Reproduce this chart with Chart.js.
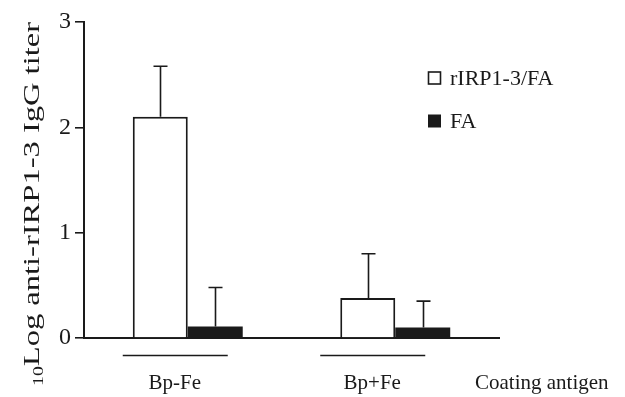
<!DOCTYPE html>
<html>
<head>
<meta charset="utf-8">
<script src="https://cdn.jsdelivr.net/npm/chart.js@4/dist/chart.umd.min.js"></script>
<style>
  html, body { margin: 0; padding: 0; background: #fff; }
  #wrap { width: 625px; height: 397px; position: relative; }
</style>
</head>
<body>
<div id="wrap"><canvas id="c" width="625" height="397"></canvas></div>
<script>
// ---- data ----
const categories = ['Bp-Fe', 'Bp+Fe'];
const seriesLabels = ['rIRP1-3/FA', 'FA'];
const meanVaccine = [2.10, 0.38];
const errVaccine = [0.48, 0.42];
const meanFA = [0.11, 0.10];
const errFA = [0.37, 0.25];
const yTickValues = [0, 1, 2, 3];
const yTitleSub = '10';
const yTitleMain = 'Log anti-rIRP1-3 IgG titer';
const xTitle = 'Coating antigen';

const FONT = '"Liberation Serif", "Times New Roman", serif';
const INK = '#1a1a1a';
// horizontal shift of each group's underline/label relative to its category centre (layout only)
const groupShift = [-13, -23];

const errorBars = [errVaccine, errFA];

const errorBarPlugin = {
  id: 'errorBars',
  afterDatasetsDraw(chart) {
    const ctx = chart.ctx;
    const ys = chart.scales.y;
    ctx.save();
    ctx.strokeStyle = INK;
    ctx.lineWidth = 1.6;
    chart.data.datasets.forEach((ds, di) => {
      const meta = chart.getDatasetMeta(di);
      meta.data.forEach((bar, i) => {
        const top = ys.getPixelForValue(ds.data[i] + errorBars[di][i]);
        const x = Math.round(bar.x) + 0.5;
        ctx.beginPath();
        ctx.moveTo(x, bar.y);
        ctx.lineTo(x, top);
        ctx.moveTo(x - 7, top);
        ctx.lineTo(x + 7, top);
        ctx.stroke();
      });
    });
    ctx.restore();
  }
};

const annotationPlugin = {
  id: 'annot',
  afterDraw(chart) {
    const ctx = chart.ctx;
    const xs = chart.scales.x;
    const area = chart.chartArea;
    ctx.save();
    ctx.fillStyle = INK;
    ctx.strokeStyle = INK;
    // group underlines + labels
    ctx.font = '21px ' + FONT;
    ctx.textAlign = 'center';
    ctx.textBaseline = 'middle';
    categories.forEach((cat, i) => {
      const cx = xs.getPixelForValue(i) + groupShift[i];
      const lineY = area.bottom + 17.5;
      ctx.lineWidth = 1.5;
      ctx.beginPath();
      ctx.moveTo(cx - 52, lineY);
      ctx.lineTo(cx + 53, lineY);
      ctx.stroke();
      ctx.fillText(cat, cx, area.bottom + 45);
    });
    // x title
    ctx.textAlign = 'left';
    ctx.fillText(xTitle, area.right - 24, area.bottom + 45);

    // legend
    ctx.font = '22px ' + FONT;
    ctx.textBaseline = 'middle';
    chart.data.datasets.forEach((ds, i) => {
      const ly = area.top + 56 + i * 43;
      const bx = area.left + 344;
      ctx.lineWidth = 1.6;
      if (i === 0) {
        ctx.fillStyle = '#fff';
        ctx.fillRect(bx, ly - 6.5, 13, 13);
        ctx.strokeRect(bx + 0.5, ly - 6, 12, 12);
      } else {
        ctx.fillStyle = INK;
        ctx.fillRect(bx, ly - 6.5, 13, 13);
      }
      ctx.fillStyle = INK;
      ctx.fillText(ds.label, bx + 22, ly + 1);
    });

    // y title with subscript, rotated
    ctx.save();
    ctx.translate(31, 386);
    ctx.rotate(-Math.PI / 2);
    ctx.font = '14px ' + FONT;
    const subW = ctx.measureText(yTitleSub).width;
    ctx.font = '23px ' + FONT;
    const mainW = ctx.measureText(yTitleMain).width;
    const target = 364;
    const sx = target / (subW + mainW);
    ctx.scale(sx, 1);
    ctx.textAlign = 'left';
    ctx.textBaseline = 'alphabetic';
    ctx.font = '14px ' + FONT;
    ctx.fillText(yTitleSub, 0, 12);
    ctx.font = '23px ' + FONT;
    ctx.fillText(yTitleMain, subW, 8);
    ctx.restore();

    ctx.restore();
  }
};

new Chart(document.getElementById('c'), {
  type: 'bar',
  data: {
    labels: categories,
    datasets: [
      {
        label: seriesLabels[0],
        data: meanVaccine,
        backgroundColor: '#ffffff',
        borderColor: INK,
        borderWidth: 2,
        borderSkipped: 'bottom',
        categoryPercentage: 0.53,
        barPercentage: 1.0
      },
      {
        label: seriesLabels[1],
        data: meanFA,
        backgroundColor: INK,
        borderColor: INK,
        borderWidth: 0,
        categoryPercentage: 0.53,
        barPercentage: 1.0
      }
    ]
  },
  options: {
    responsive: false,
    animation: false,
    devicePixelRatio: 1,
    layout: { padding: { top: 22, right: 126, left: 0, bottom: 0 } },
    plugins: { legend: { display: false }, tooltip: { enabled: false } },
    scales: {
      x: {
        offset: true,
        grid: { display: false, drawTicks: false },
        border: { display: true, color: INK, width: 2 },
        ticks: { display: false },
        afterFit(scale) { scale.height = 59; }
      },
      y: {
        min: 0,
        max: 3,
        afterBuildTicks(scale) { scale.ticks = yTickValues.map(v => ({ value: v })); },
        grid: { drawOnChartArea: false, drawTicks: true, tickLength: 9, color: INK, lineWidth: 1.6 },
        border: { display: true, color: INK, width: 2 },
        ticks: {
          color: INK,
          padding: 4,
          font: { family: FONT, size: 24 }
        },
        afterFit(scale) { scale.width = 84; }
      }
    }
  },
  plugins: [errorBarPlugin, annotationPlugin]
});
</script>
</body>
</html>
